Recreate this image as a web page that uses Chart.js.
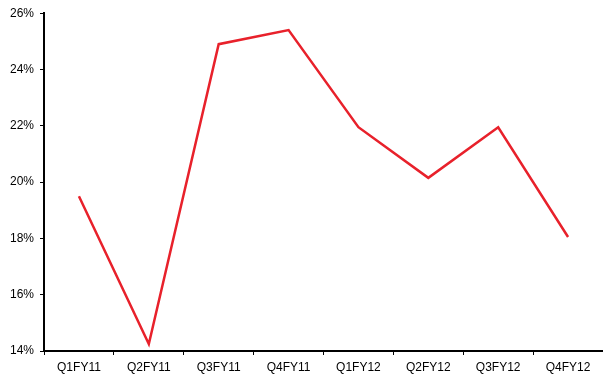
<!DOCTYPE html>
<html>
<head>
<meta charset="utf-8">
<script src="https://cdn.jsdelivr.net/npm/chart.js@4"></script>
<style>
  html, body { margin: 0; padding: 0; background: #fff; }
  #wrap { width: 603px; height: 378px; }
</style>
</head>
<body>
<div id="wrap"><canvas id="chart"></canvas></div>
<script>
const quarters = ['Q1FY11', 'Q2FY11', 'Q3FY11', 'Q4FY11', 'Q1FY12', 'Q2FY12', 'Q3FY12', 'Q4FY12'];
const marginPct = [19.5, 14.25, 24.9, 25.4, 21.95, 20.15, 21.95, 18.05];
const yMin = 14;
const yMax = 26;
const yStep = 2;

const font = { family: 'Arial, "Liberation Sans", sans-serif', size: 12 };

new Chart(document.getElementById('chart'), {
    type: 'line',
    data: {
        labels: quarters,
        datasets: [{
            data: marginPct,
            borderColor: '#e8212b',
            borderWidth: 2.5,
            pointRadius: 0,
            tension: 0,
            fill: false
        }]
    },
    options: {
        responsive: true,
        maintainAspectRatio: false,
        animation: false,
        layout: { padding: { top: 12, right: 0, left: 0, bottom: 0 } },
        plugins: { legend: { display: false }, tooltip: { enabled: false } },
        scales: {
            x: {
                offset: true,
                grid: { offset: true, drawOnChartArea: false, tickLength: 4, color: '#000', lineWidth: 1 },
                border: { color: '#000', width: 2 },
                ticks: { color: '#000', font: font, padding: 5, maxRotation: 0 },
                afterFit: (axis) => { axis.height = 27; }
            },
            y: {
                min: yMin,
                max: yMax,
                grid: { drawOnChartArea: false, tickLength: 4, color: '#000', lineWidth: 1 },
                border: { color: '#000', width: 2 },
                ticks: {
                    stepSize: yStep,
                    color: '#000',
                    font: font,
                    padding: 6,
                    callback: (v) => v + '%'
                },
                afterFit: (axis) => { axis.width = 44; }
            }
        }
    }
});
</script>
</body>
</html>
